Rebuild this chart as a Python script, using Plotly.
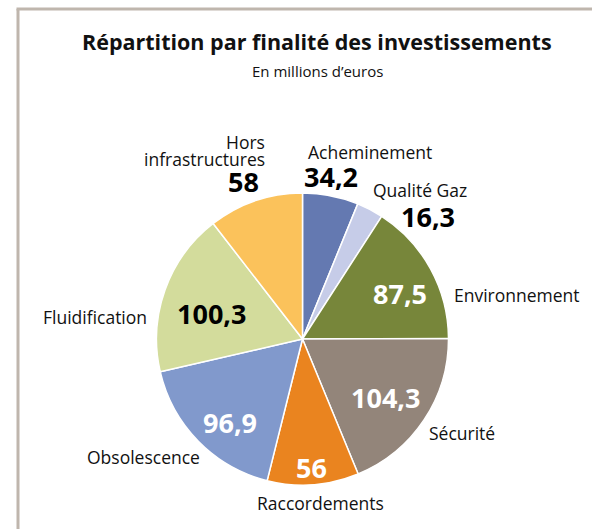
import plotly.graph_objects as go

# Investissements par finalité (millions d'euros)
categories = ['Acheminement', 'Qualité Gaz', 'Environnement', 'Sécurité',
              'Raccordements', 'Obsolescence', 'Fluidification', 'Hors<br>infrastructures']
values = [34.2, 16.3, 87.5, 104.3, 56, 96.9, 100.3, 58]
colors = ['#6479B1', '#C6CCE8', '#77863A', '#93857A',
          '#EA841F', '#8199CC', '#D3DC9C', '#FBC25B']

W, H = 592, 529
FONT = 'Open Sans'


def fr(v):
    # format français : virgule décimale
    s = ('%.1f' % v).rstrip('0').rstrip('.')
    return s.replace('.', ',')


def px(x, y):
    return x / W, 1 - y / H


fig = go.Figure(go.Pie(
    labels=categories,
    values=values,
    sort=False,
    direction='clockwise',
    rotation=0,
    marker=dict(colors=colors, line=dict(color='white', width=1.5)),
    textinfo='none',
    hoverinfo='label+value',
    domain=dict(x=[156.5 / W, 448.5 / W], y=[1 - 485 / H, 1 - 193 / H]),
))

# positions des étiquettes (pixels) : nom (droite du texte si multi-ligne), valeur, couleur valeur
label_pos = [
    ((370, 152), (331, 176), 'black'),
    ((420, 190), (428, 217), 'black'),
    ((517, 295), (400, 293), 'white'),
    ((462, 433), (385, 397), 'white'),
    ((320, 503), (312, 467), 'white'),
    ((143, 457), (230, 422), 'white'),
    ((95, 317), (211, 313), 'black'),
    ((267, 142), (243, 182), 'black'),
]

annotations = []
for name, v, (npos, vpos, vcol) in zip(categories, values, label_pos):
    lines = name.split('<br>')
    for i, line in enumerate(lines):
        nx, ny = px(npos[0], npos[1] + 17 * i)
        annotations.append(dict(
            x=nx, y=ny, xref='paper', yref='paper', text=line, showarrow=False,
            xanchor='right' if len(lines) > 1 else 'center', yanchor='middle',
            font=dict(family=FONT, size=17.5, color='#111111')))
    vx, vy = px(*vpos)
    annotations.append(dict(
        x=vx, y=vy, xref='paper', yref='paper', text='<b>%s</b>' % fr(v),
        showarrow=False, xanchor='center', yanchor='middle',
        font=dict(family=FONT, size=27, color=vcol)))

# titre et sous-titre
tx, ty = px(317, 42)
annotations.append(dict(x=tx, y=ty, xref='paper', yref='paper',
                        text='<b>Répartition par finalité des investissements</b>',
                        showarrow=False, xanchor='center', yanchor='middle',
                        font=dict(family=FONT, size=21.5, color='#111111')))
sx, sy = px(317, 71)
annotations.append(dict(x=sx, y=sy, xref='paper', yref='paper',
                        text='En millions d’euros',
                        showarrow=False, xanchor='center', yanchor='middle',
                        font=dict(family=FONT, size=15, color='#111111')))

# cadre (bord gauche et haut)
frame = [
    dict(type='line', xref='paper', yref='paper', x0=18 / W, x1=18 / W, y0=0, y1=1 - 9 / H,
         line=dict(color='#BFB6AD', width=3)),
    dict(type='line', xref='paper', yref='paper', x0=16.5 / W, x1=1, y0=1 - 9 / H, y1=1 - 9 / H,
         line=dict(color='#BFB6AD', width=3)),
]

fig.update_layout(
    width=W, height=H,
    margin=dict(l=0, r=0, t=0, b=0),
    paper_bgcolor='white',
    plot_bgcolor='white',
    showlegend=False,
    annotations=annotations,
    shapes=frame,
    font=dict(family=FONT),
)

fig.write_html('out.html', config={'displayModeBar': False},
               post_script="document.body.style.margin='0';document.body.style.overflow='hidden';")
